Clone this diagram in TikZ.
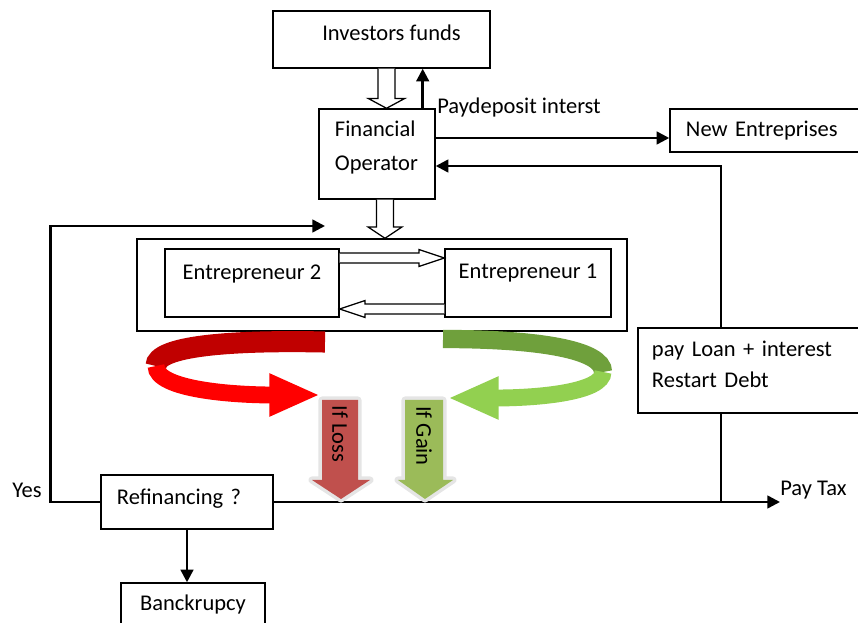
\documentclass[tikz,border=0pt]{standalone}
\usepackage{fontspec}
\setmainfont{Carlito}
\usepackage{tikz}
\usetikzlibrary{arrows.meta,calc}

\definecolor{lossred}{HTML}{C0504D}
\definecolor{gaingreen}{HTML}{9BBB59}
\definecolor{backred}{HTML}{C00000}
\definecolor{frontred}{HTML}{FF0000}
\definecolor{backgreen}{HTML}{6FA03C}
\definecolor{frontgreen}{HTML}{92D050}

\tikzset{
  box/.style={draw, line width=1pt, inner sep=0pt},
  flow/.style={line width=1.8pt, -{Triangle[length=9pt,width=9pt]}},
  hollow/.style args={#1/#2/#3}{draw, fill=white, line width=0.9pt,
    to path={let \p1=(\tikztostart), \p2=(\tikztotarget),
      \n1={atan2(\y2-\y1,\x2-\x1)}, \n2={veclen(\x2-\x1,\y2-\y1)-#3} in
      ($(\p1)+(\n1+90:#1)$) -- ($(\p1)+(\n1:\n2)+(\n1+90:#1)$)
      -- ($(\p1)+(\n1:\n2)+(\n1+90:#2)$) -- (\p2)
      -- ($(\p1)+(\n1:\n2)+(\n1-90:#2)$) -- ($(\p1)+(\n1:\n2)+(\n1-90:#1)$)
      -- ($(\p1)+(\n1-90:#1)$)}},
  glow/.style={preaction={draw=gray!20, line width=5pt, line join=round}}
}

\begin{document}
\begin{tikzpicture}[x=0.025cm, y=-0.025cm, font=\fontsize{16}{18}\selectfont]
  \useasboundingbox (0,0) rectangle (858,623);
      \draw (381.5,39.5) node[box, minimum width=5.425cm, minimum height=1.425cm, text depth=10pt] (inv) {\hspace*{0.5cm}Investors funds};
      \draw (377,154) node[box, minimum height=2.25cm, text width=2.1cm, inner xsep=0.4cm, align=left, text depth=36pt] (fo) {Financial\\[6pt]Operator};
      \draw (767.5,130.5) node[box, minimum height=1.075cm, text width=4.075cm, inner xsep=0.4cm, align=left] (ne) {New Entreprises};
      \draw (751.5,370.5) node[box, minimum height=2.125cm, text width=4.975cm, inner xsep=0.35cm, align=left, text depth=31pt] (loan) {pay Loan + interest\\[4pt]Restart Debt};
  \draw (382,285) node[box, minimum width=12.25cm, minimum height=2.3cm] (team) {};
      \draw (252,283) node[box, minimum width=4.35cm, minimum height=1.7cm, text depth=16pt] (ent2) {Entrepreneur 2};
      \draw (528,283) node[box, minimum width=4.15cm, minimum height=1.7cm, text depth=16pt] (ent1) {Entrepreneur 1};
  \draw (187,502) node[box, minimum height=1.35cm, text width=3.5cm, inner xsep=0.4cm, align=left, text depth=8pt] (refin) {Refinancing ?};
  \draw (193,611.5) node[box, minimum width=3.6cm, minimum height=1.425cm, text depth=12pt] (bank) {Banckrupcy};
      \draw (437,108) node[anchor=west, inner sep=0pt] (payint) {Paydeposit interst};
      \draw (12,490) node[anchor=west, inner sep=0pt] (yes) {Yes};
      \draw (780,490) node[anchor=west, inner sep=0pt] (tax) {Pay Tax};
%%%%%%%%%%%%%%%%%%%%%%%%%%%%%%%%%%%%%%%%%%%%%%%%%%%%%%%%%%%%%%%%%%%%%%%
  \coordinate (fund) at ([xshift=0.125cm]inv.south);
  \coordinate (feed) at ([xshift=0.2cm]fo.south);
  \coordinate (payup) at ([xshift=-0.325cm]fo.north east);
  \coordinate (toNE) at ([yshift=0.4cm]fo.east);
  \coordinate (back) at ([yshift=-0.3cm]fo.east);
  \coordinate (lx) at ([xshift=-0.7625cm]loan.north);
  \coordinate (loopend) at (325,226);
      \draw[hollow=6pt/13pt/7pt] (fund) to (fund |- fo.north);
      \draw[hollow=6pt/12pt/8pt] (feed) to (feed |- team.north);
      \draw[hollow=3.5pt/6pt/18pt] ([yshift=0.625cm]ent2.east) to ([yshift=0.625cm]ent1.west);
      \draw[hollow=3.5pt/6pt/18pt] ([yshift=-0.65cm]ent1.west) to ([yshift=-0.65cm]ent2.east);
      \draw[flow] (payup) -- (payup |- inv.south);
      \draw[flow] (toNE) -- (toNE -| ne.west);
      \draw[flow] (lx) |- (back);
      \draw[line width=1pt] (refin.east) -- (refin.east -| lx);
      \draw[flow] (lx |- loan.south) |- (refin.east -| tax.west);
      \draw[flow] (refin.west) -- ++(-50,0) |- (loopend);
      \draw[flow] (refin.south) -- (refin.south |- bank.north);
%%%%%%%%%%%%%%%%%%%%%%%%%%%%%%%%%%%%%%%%%%%%%%%%%%%%%%%%%%%%%%%%%%%%%%%
  \draw[backred, line width=15pt] (325,342) .. controls (230,340) and (156,346) .. (156,366);
  \draw[frontred, line width=12pt, -{Triangle[length=36pt,width=28pt]}] (156,366) .. controls (156,390) and (235,395) .. (320,395);
  \draw[backgreen, line width=13pt] (443,339) .. controls (540,339) and (603,350) .. (603,372);
  \draw[frontgreen, line width=12pt, -{Triangle[length=36pt,width=28pt]}] (603,372) .. controls (603,392) and (540,398) .. (448,398);
  \fill[lossred, glow] (322,400) -- (358,400) -- (358,480) -- (370,480) -- (341,499) -- (312,480) -- (322,480) -- cycle;
  \fill[gaingreen, glow] (405,400) -- (443,400) -- (443,480) -- (453,480) -- (425,499) -- (398,480) -- (405,480) -- cycle;
      \draw (340,434) node[rotate=-90] (loss) {If Loss};
      \draw (424,436) node[rotate=-90] (gain) {If Gain};
\end{tikzpicture}
\end{document}
